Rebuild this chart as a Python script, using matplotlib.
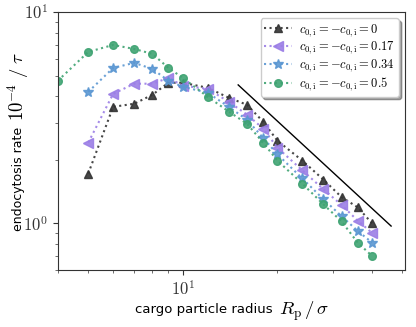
import numpy as np
import matplotlib
matplotlib.use("Agg")
import matplotlib.pyplot as plt
from matplotlib import ticker

plt.rcParams['mathtext.fontset'] = 'cm'
plt.rcParams['font.family'] = ['DejaVu Sans']

# particle radii R_p / sigma
radius = [4, 5, 6, 7, 8, 9, 10, 12, 14, 16, 18, 20, 24, 28, 32, 36, 40]

# endocytosis rate (10^-4 / tau) per spontaneous curvature
rate_0 = [1.72, 3.56, 3.68, 4.06, 4.63, 4.63, 4.38, 3.93, 3.64, 3.03,
          2.46, 1.98, 1.61, 1.33, 1.19, 1.00]
rate_017 = [2.41, 4.10, 4.58, 4.58, 4.88, 4.48, 4.33, 3.76, 3.27, 2.81,
            2.28, 1.78, 1.45, 1.22, 1.03, 0.90]
rate_034 = [4.19, 5.44, 5.75, 5.38, 4.73, 4.43, 4.15, 3.56, 3.09, 2.54,
            2.12, 1.63, 1.30, 1.08, 0.92, 0.81]
rate_05 = [4.73, 6.48, 6.99, 6.69, 6.34, 5.44, 4.88, 3.97, 3.38, 2.96,
           2.41, 1.98, 1.54, 1.23, 1.02, 0.81, 0.70]

labels = [r'$c_{0,\mathrm{i}} = -c_{0,\mathrm{i}} = 0$',
          r'$c_{0,\mathrm{i}} = -c_{0,\mathrm{i}} = 0.17$',
          r'$c_{0,\mathrm{i}} = -c_{0,\mathrm{i}} = 0.34$',
          r'$c_{0,\mathrm{i}} = -c_{0,\mathrm{i}} = 0.5$']

# guide line (power law) endpoints
guide_x = [15, 46]
guide_y = [4.52, 0.97]

fig = plt.figure(figsize=(4.16, 3.27), dpi=100)
ax = fig.add_axes([0.139, 0.174, 0.835, 0.789])

series = [
    (radius[1:], rate_0, '#333333', '^', 6),
    (radius[1:], rate_017, '#9b7ee6', '<', 7),
    (radius[1:], rate_034, '#5b97d2', '*', 7),
    (radius, rate_05, '#3fa372', 'o', 5.5),
]
for (x, y, c, m, ms), lab in zip(series, labels):
    ax.plot(x, y, ls=':', lw=1.5, color=c, marker=m, markersize=ms,
            alpha=0.9, label=lab)

ax.plot(guide_x, guide_y, color='black', lw=1.0)

ax.set_xscale('log')
ax.set_yscale('log')
ax.set_xlim(4, 51)
ax.set_ylim(0.6, 10)

pow_fmt = ticker.FuncFormatter(lambda v, p: r'$10^{%d}$' % round(np.log10(v)))
ax.xaxis.set_major_formatter(pow_fmt)
ax.yaxis.set_major_formatter(pow_fmt)
ax.xaxis.set_minor_formatter(ticker.NullFormatter())
ax.yaxis.set_minor_formatter(ticker.NullFormatter())
ax.tick_params(axis='both', which='major', labelsize=12, colors='#333333')
ax.tick_params(axis='both', which='minor', colors='#555555')
for s in ax.spines.values():
    s.set_color('#333333')

# axis labels: plain text part plus larger math part
W, H = 416.0, 327.0
fig.text(273 / W, 1 - 309 / H, 'cargo particle radius', fontsize=9.5,
         ha='right', va='center')
fig.text(279 / W, 1 - 311 / H, r'$R_\mathrm{p}\,/\,\sigma$', fontsize=13.5,
         ha='left', va='center')
fig.text(19 / W, 1 - 231 / H, 'endocytosis rate', fontsize=9.0,
         rotation=90, ha='center', va='bottom')
fig.text(18 / W, 1 - 121 / H, r'$10^{-4}\ /\ \tau$', fontsize=13.5,
         rotation=90, ha='center', va='bottom')

leg = ax.legend(loc='upper right', fontsize=9, shadow=True, fancybox=True,
                handlelength=2.2, borderpad=0.3, labelspacing=0.1,
                handletextpad=0.6, framealpha=1.0)

fig.savefig('out.png', dpi=100)
